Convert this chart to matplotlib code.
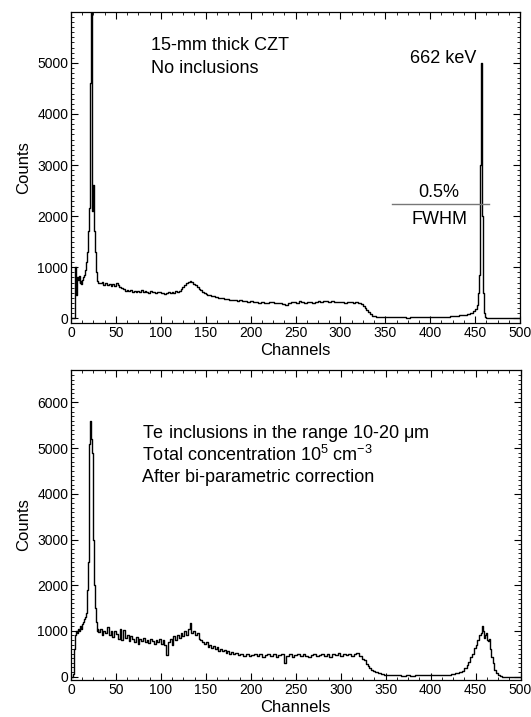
import matplotlib
matplotlib.use('Agg')
import matplotlib.pyplot as plt
from matplotlib.ticker import MultipleLocator

plt.rcParams['font.family'] = ['Liberation Sans', 'DejaVu Sans']
plt.rcParams['mathtext.fontset'] = 'custom'
plt.rcParams['mathtext.rm'] = 'Liberation Sans'
plt.rcParams['mathtext.it'] = 'Liberation Sans:italic'

# =============================================================================
# Espectro de cima: 15-mm CZT, sem inclusoes
# =============================================================================
ch_top = [0, 3, 4, 5, 6, 7, 8, 9, 10, 11, 12, 13, 14, 15, 16, 17, 18, 19, 20,
          21, 22, 23, 24, 25, 26, 27, 28, 29, 30,
          31, 33, 35, 37, 39, 41, 43, 45, 47, 49, 51, 53, 55, 57, 59, 61, 63, 65,
          67, 69, 71, 73, 75, 77, 79, 81, 83, 85, 87, 89, 91, 93, 95, 97, 99, 101,
          103, 105, 107, 109, 111, 113, 115, 117, 119, 121, 123, 125, 127, 129, 131,
          133, 135, 137, 139, 141, 143, 145, 147, 149, 151, 153, 155, 157, 159, 161,
          163, 165, 167, 169, 171, 173, 175, 177, 180, 183, 186, 189, 192, 195, 198,
          201, 204, 207, 210, 213, 216, 219, 222, 225, 228, 231, 234, 237, 240, 243,
          246, 249, 252, 255, 258, 261, 264, 267, 270, 273, 276, 279, 282, 285, 288,
          291, 294, 297, 300, 303, 306, 309, 312, 315, 318, 321, 324, 326, 328, 330,
          332, 334, 336, 338, 341, 345, 350, 355, 360, 365, 370, 375, 380, 385, 390,
          395, 400, 405, 410, 415, 420, 425, 430, 435, 440, 443, 446, 449, 451, 453,
          454, 455, 456, 457, 458, 459, 460, 461, 463, 470, 500]
counts_top = [0, 0, 0, 1000, 450, 800, 750, 820, 700, 720, 680, 750, 800, 850, 950,
              1100, 1300, 1700, 2100, 2150, 4600, 7000, 2100, 2600, 1700, 1300, 900,
              760, 730,
              700, 690, 710, 660, 690, 650, 670, 640, 680, 640, 690, 660, 620, 600, 580,
              540, 560, 530, 550, 520, 540, 510, 530, 520, 550, 510, 540, 520, 500, 530,
              510, 520, 490, 510, 520, 490, 500, 470, 500, 510, 490, 520, 500, 530, 520,
              540, 580, 610, 650, 690, 710, 730, 710, 680, 650, 620, 570, 560, 510, 490,
              480, 460, 450, 430, 440, 410, 420, 400, 390, 400, 380, 370, 380, 360, 350,
              360, 340, 350, 330, 340, 320, 330, 310, 320, 300, 310, 300, 290, 310, 320,
              300, 290, 300, 280, 250, 300, 310, 320, 300, 330, 310, 300, 320, 310, 300,
              320, 330, 310, 340, 330, 320, 330, 320, 310, 320, 310, 300, 320, 310, 300,
              310, 290, 270, 240, 200, 160, 120, 80, 50, 35, 25, 20, 25, 15, 20, 15, 20,
              10, 20, 15, 20, 25, 20, 25, 20, 30, 30, 35, 45, 55, 70, 90, 110, 140, 180,
              250, 500, 850, 3000, 5000, 2000, 500, 100, 20, 0, 0, 0]

# =============================================================================
# Espectro de baixo: inclusoes de Te, apos correcao bi-parametrica
# =============================================================================
ch_bot = [0, 2, 3, 4, 5, 6, 7, 8, 9, 10, 11, 12, 13, 14, 15, 16, 17, 18, 19, 20,
          21, 22, 23, 24, 25, 26, 27, 28, 29, 30,
          31, 33, 35, 37, 39, 41, 43, 45, 47, 49, 51, 53, 55, 57, 59, 61, 63, 65,
          67, 69, 71, 73, 75, 77, 79, 81, 83, 85, 87, 89, 91, 93, 95, 97, 99, 101,
          103, 105, 107, 109, 111, 113, 115, 117, 119, 121, 123, 125, 127, 129, 131,
          133, 135, 137, 139, 141, 143, 145, 147, 149, 151, 153, 155, 157, 159, 161,
          163, 165, 167, 169, 171, 173, 175, 177, 179, 181, 184, 187, 190, 193, 196,
          199, 202, 205, 208, 211, 214, 217, 220, 223, 226, 229, 232, 235, 238, 241,
          244, 247, 250, 253, 256, 259, 262, 265, 268, 271, 274, 277, 280, 283, 286,
          289, 292, 295, 298, 301, 304, 307, 310, 313, 316, 319, 321, 323, 325, 327,
          329, 331, 333, 335, 337, 340, 343, 346, 350, 355, 360, 365, 370, 375, 380,
          385, 390, 395, 400, 405, 410, 415, 420, 425, 430, 433, 436, 439, 441, 443,
          445, 447, 449, 451, 453, 455, 457, 458, 459, 460, 461, 462, 463, 464, 465,
          466, 468, 470, 472, 474, 476, 478, 480, 500]
counts_bot = [0, 0, 50, 600, 900, 1000, 950, 1050, 1000, 1050, 1100, 1050, 1150, 1200,
              1250, 1300, 1400, 1900, 2500, 3700, 5100, 5600, 5200, 4900, 3000, 2000,
              1500, 1200, 1000, 1050,
              980, 1050, 920, 1000, 960, 1080, 900, 1000, 870, 1000, 940, 830, 1050, 800,
              1020, 850, 900, 780, 880, 820, 760, 860, 720, 830, 780, 850, 760, 800, 740,
              820, 770, 720, 800, 750, 820, 720, 800, 700, 480, 760, 820, 700, 880, 800,
              900, 850, 950, 880, 990, 920, 1050, 1170, 950, 1000, 900, 950, 830, 800,
              760, 720, 750, 650, 700, 620, 680, 600, 640, 560, 600, 550, 580, 520, 560,
              500, 540, 490, 520, 470, 500, 460, 490, 440, 480, 500, 450, 490, 430, 480,
              500, 440, 490, 420, 470, 500, 300, 460, 490, 430, 480, 500, 440, 490, 460,
              420, 480, 500, 450, 480, 500, 460, 490, 430, 500, 470, 510, 460, 490, 470,
              500, 450, 490, 520, 460, 440, 390, 360, 280, 230, 190, 150, 120, 90, 70,
              50, 40, 30, 25, 30, 20, 25, 20, 30, 25, 30, 30, 35, 30, 40, 45, 50, 70, 90,
              120, 180, 250, 320, 420, 500, 620, 700, 800, 900, 950, 1100, 1000, 850, 900,
              950, 800, 780, 820, 600, 420, 300, 150, 80, 30, 5, 0, 0]

# anotacoes
texto_top = ['15-mm thick CZT', 'No inclusions']
texto_bot = [r'Te inclusions in the range 10-20 $\mathrm{\mu}$m',
             r'Total concentration 10$^{5}$ cm$^{-3}$',
             'After bi-parametric correction']
pico_label = '662 keV'
fwhm_valor = '0.5%'
fwhm_y = 2230
fwhm_x = (358, 466)

fig = plt.figure(figsize=(5.31, 7.17), dpi=100)
ax1 = fig.add_axes([0.1337, 0.549, 0.8456, 0.4345])
ax2 = fig.add_axes([0.1337, 0.0516, 0.8466, 0.433])

ax1.plot(ch_top, counts_top, color='black', lw=1.0, drawstyle='steps-mid')
ax2.plot(ch_bot, counts_bot, color='black', lw=1.0, drawstyle='steps-mid')

for ax in (ax1, ax2):
    ax.set_xlim(0, 500)
    ax.xaxis.set_major_locator(MultipleLocator(50))
    ax.xaxis.set_minor_locator(MultipleLocator(12.5))
    ax.yaxis.set_major_locator(MultipleLocator(1000))
    ax.yaxis.set_minor_locator(MultipleLocator(100))
    ax.tick_params(which='both', direction='in', top=True, right=True,
                   labelsize=10, pad=2)
    ax.tick_params(which='major', length=5, width=0.8)
    ax.tick_params(which='minor', length=2.5, width=0.6)
    ax.set_xlabel('Channels', fontsize=12, labelpad=2)
    ax.set_ylabel('Counts', fontsize=12, labelpad=4)
    for s in ax.spines.values():
        s.set_linewidth(0.9)

ax1.set_ylim(-100, 6000)
ax1.set_yticks([0, 1000, 2000, 3000, 4000, 5000])
ax2.set_ylim(-75, 6720)

ax1.text(89, 5340, texto_top[0], fontsize=13, va='center')
ax1.text(89, 4890, texto_top[1], fontsize=13, va='center')
ax1.text(451, 5090, pico_label, fontsize=13, va='center', ha='right')
ax1.plot(fwhm_x, [fwhm_y, fwhm_y], color='#777777', lw=1.0)
ax1.text(410, fwhm_y + 230, fwhm_valor, fontsize=13, va='center', ha='center')
ax1.text(410, fwhm_y - 300, 'FWHM', fontsize=13, va='center', ha='center')

for i, t in enumerate(texto_bot):
    ax2.text(79, 5330 - i * 490, t, fontsize=13, va='center')

fig.savefig('out.png', dpi=100)
